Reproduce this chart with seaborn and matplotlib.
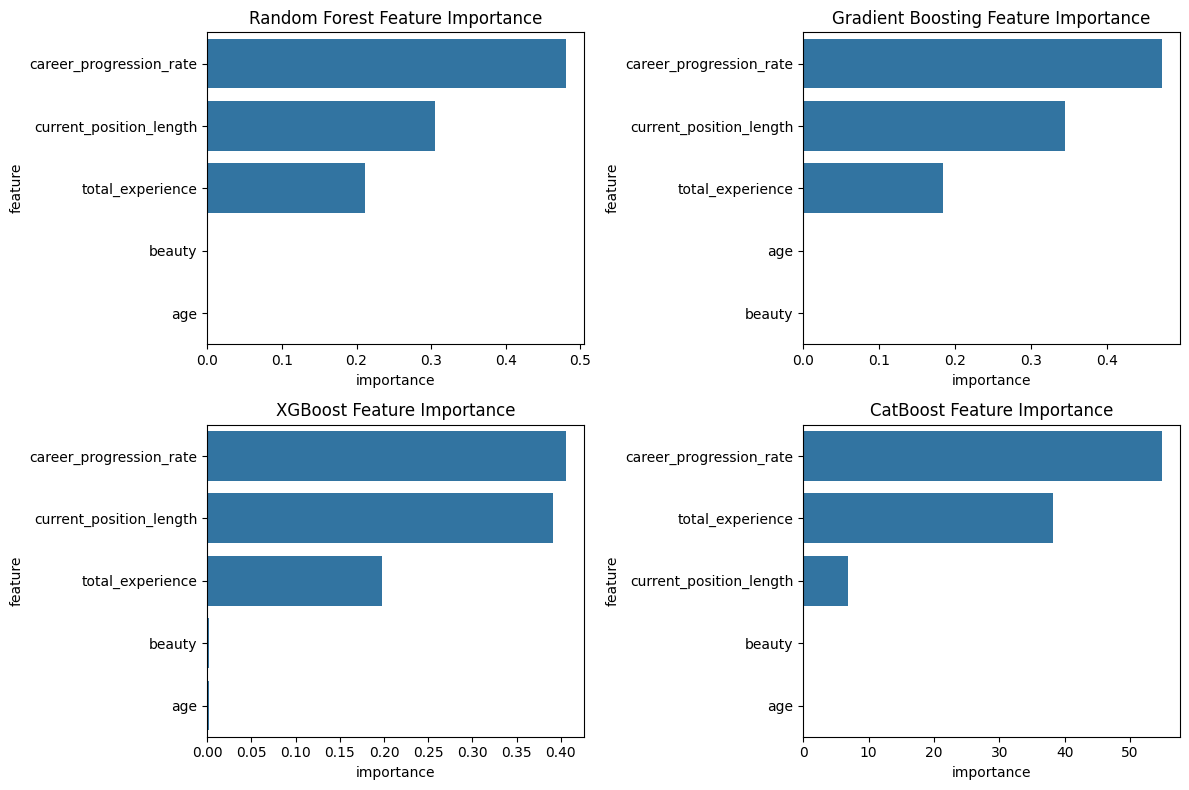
import matplotlib
matplotlib.use("Agg")
import matplotlib.pyplot as plt
from matplotlib.ticker import MultipleLocator
import seaborn as sns
import pandas as pd

# -- feature importances per model (order as drawn, sorted descending)
rf_features = ["career_progression_rate", "current_position_length", "total_experience", "beauty", "age"]
rf_importance = [0.481, 0.305, 0.212, 0.0, 0.0]

gb_features = ["career_progression_rate", "current_position_length", "total_experience", "age", "beauty"]
gb_importance = [0.472, 0.344, 0.184, 0.0, 0.0]

xgb_features = ["career_progression_rate", "current_position_length", "total_experience", "beauty", "age"]
xgb_importance = [0.406, 0.391, 0.198, 0.0025, 0.0023]

cat_features = ["career_progression_rate", "total_experience", "current_position_length", "beauty", "age"]
cat_importance = [54.9, 38.2, 6.8, 0.0, 0.0]

models = [
    ("Random Forest", rf_features, rf_importance),
    ("Gradient Boosting", gb_features, gb_importance),
    ("XGBoost", xgb_features, xgb_importance),
    ("CatBoost", cat_features, cat_importance),
]

fig, axes = plt.subplots(2, 2, figsize=(12, 8), dpi=100)

for ax, (name, feats, imps) in zip(axes.flat, models):
    df = pd.DataFrame({"feature": feats, "importance": imps})
    sns.barplot(data=df, x="importance", y="feature", ax=ax)
    ax.set_title(f"{name} Feature Importance")

# XGBoost panel uses finer ticks in the original
axes[1, 0].xaxis.set_major_locator(MultipleLocator(0.05))

plt.tight_layout()
plt.savefig("out.png", dpi=100, bbox_inches="tight")
